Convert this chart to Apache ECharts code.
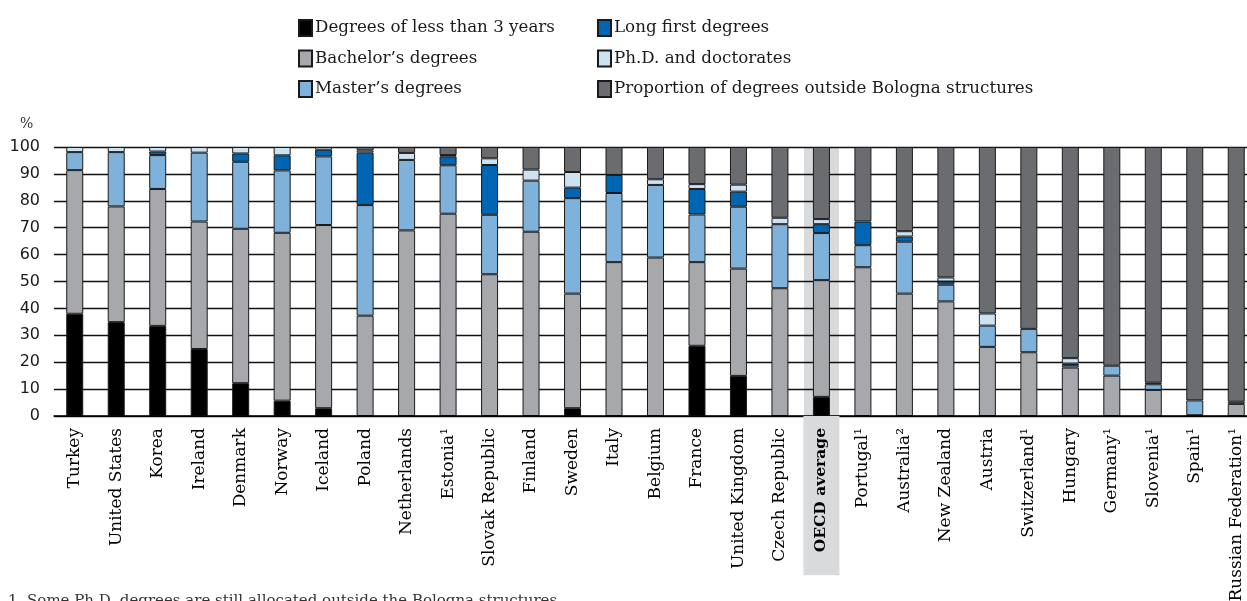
<!DOCTYPE html>
<html>
<head>
<meta charset="utf-8">
<script src="https://cdn.jsdelivr.net/npm/echarts@6/dist/echarts.min.js"></script>
<style>html,body{margin:0;padding:0;background:#fff}#c{width:1247px;height:601px}</style>
</head>
<body>
<div id="c"></div>
<script>
const categories = ['Turkey','United States','Korea','Ireland','Denmark','Norway','Iceland','Poland','Netherlands','Estonia\u00B9','Slovak Republic','Finland','Sweden','Italy','Belgium','France','United Kingdom','Czech Republic','OECD average','Portugal\u00B9','Australia\u00B2','New Zealand','Austria','Switzerland\u00B9','Hungary','Germany\u00B9','Slovenia\u00B9','Spain\u00B9','Russian Federation\u00B9'];
const shortDegrees = [38.0,34.9,33.5,24.9,12.2,5.7,2.9,0,0,0,0,0,2.9,0,0,26.1,14.9,0,7.1,0,0,0,0,0,0,0,0,0,0];
const bachelor = [53.4,43.0,50.9,47.4,57.4,62.4,68.1,37.3,69.0,75.2,52.7,68.5,42.6,57.2,58.9,31.1,39.9,47.5,43.4,55.3,45.5,42.6,25.7,23.7,18.0,15.0,9.7,0.3,4.5];
const master = [6.7,20.2,12.6,25.6,24.9,23.2,25.5,41.1,26.2,18.0,22.1,19.0,35.5,25.7,27.0,17.7,23.0,23.8,17.5,8.2,19.3,6.2,7.9,8.7,0.9,3.7,2.1,5.5,0.8];
const longFirst = [0,0,1.3,0,3.1,5.6,2.5,19.5,0,3.3,18.5,0,3.9,6.7,0,9.5,5.6,0,3.3,8.8,1.9,1.2,0,0,0.6,0,0.6,0,0];
const phd = [1.9,1.9,1.7,2.1,2.4,3.1,1.0,0.8,2.6,0.5,2.5,4.1,5.8,0,2.1,1.8,2.6,2.4,1.9,0,2.0,1.5,4.5,0,2.0,0,0,0,0];
const outside = [0,0,0,0,0,0,0,1.3,2.2,3.0,4.2,8.4,9.3,10.4,12.0,13.8,14.0,26.3,26.8,27.7,31.3,48.5,61.9,67.6,78.5,81.3,87.6,94.2,94.7];
const yTicks = [0,10,20,30,40,50,60,70,80,90,100];
const highlight = 'OECD average';

const seriesDefs = [
  ['Degrees of less than 3 years', shortDegrees, '#000000'],
  ["Bachelor\u2019s degrees", bachelor, '#a7a8ac'],
  ["Master\u2019s degrees", master, '#7fb2da'],
  ['Long first degrees', longFirst, '#0066b3'],
  ['Ph.D. and doctorates', phd, '#cde2f1'],
  ['Proportion of degrees outside Bologna structures', outside, '#6b6c70']
];
const serif = 'DejaVu Serif';
const series = seriesDefs.map(([name, vals, color]) => ({
  name, type: 'bar', stack: 'total', barWidth: 17, z: 3,
  data: vals.map(v => v === 0 ? '-' : v),
  itemStyle: { color, borderColor: '#1a1a1a', borderWidth: 1 },
  emphasis: { disabled: true }
}));
series.push({
  name: 'band', type: 'bar', xAxisIndex: 1, barWidth: 35, z: 1, silent: true,
  data: categories.map(c => c === highlight ? 100 : '-'),
  itemStyle: { color: '#d9dadc' }
});

const chart = echarts.init(document.getElementById('c'), null, { renderer: 'canvas' });
const legendCommon = {
  orient: 'vertical', itemWidth: 13, itemHeight: 16, itemGap: 12.5, icon: 'rect',
  textStyle: { fontFamily: serif, fontSize: 16.7, color: '#1a1a1a', padding: [0,0,0,-2] },
  selectedMode: false
};
chart.setOption({
  animation: false,
  title: { text: '%', left: 15, top: 112, textStyle: { fontFamily: serif, fontSize: 14, fontWeight: 'normal', color: '#333' } },
  legend: [
    Object.assign({ left: 293, top: 14, data: [seriesDefs[0][0], seriesDefs[1][0], seriesDefs[2][0]] }, legendCommon),
    Object.assign({ left: 592, top: 14, data: [seriesDefs[3][0], seriesDefs[4][0], seriesDefs[5][0]] }, legendCommon)
  ],
  grid: { left: 54, right: -10, top: 147, bottom: 185, containLabel: false, outerBoundsMode: 'none' },
  xAxis: [{
    type: 'category', data: categories, z: 4,
    axisLine: { lineStyle: { color: '#000', width: 1.5 } },
    axisTick: { show: false },
    axisLabel: {
      interval: 0, rotate: 90, margin: 0, color: '#000',
      fontFamily: serif, fontSize: 17,
      formatter: v => v === highlight ? '{h|' + v + '}' : '{n|' + v + '}',
      rich: {
        n: { fontFamily: serif, fontSize: 17, color: '#000', padding: [0, 12, 0, 0] },
        h: { fontFamily: serif, fontSize: 15.5, fontWeight: 'bold', color: '#000', backgroundColor: '#d9dadc', padding: [10, 12, 10, 23] }
      }
    }
  }, {
    type: 'category', data: categories, show: false
  }],
  yAxis: {
    type: 'value', min: 0, max: 100, interval: 10, z: 2,
    axisLine: { show: false }, axisTick: { show: false },
    axisLabel: { margin: 14, fontFamily: 'DejaVu Sans', fontSize: 16, color: '#1a1a1a',
      formatter: v => yTicks.includes(v) ? String(v) : '' },
    splitLine: { lineStyle: { color: '#111', width: 1.3 } }
  },
  graphic: [{
    type: 'text', left: 8, top: 594,
    style: { text: '1. Some Ph.D. degrees are still allocated outside the Bologna structures.', font: '15px "DejaVu Serif"', fill: '#333' }
  }],
  series
});
</script>
</body>
</html>
